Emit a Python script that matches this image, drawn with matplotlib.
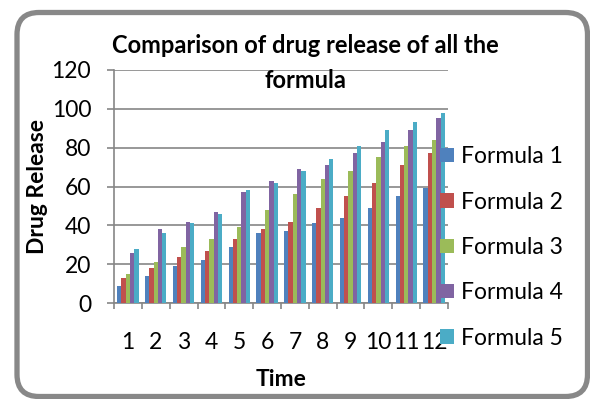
import matplotlib
matplotlib.use("Agg")
import matplotlib.pyplot as plt
import numpy as np
from matplotlib.patches import FancyBboxPatch

# Drug release (%) at each time point for the five formulas
time_points = [1, 2, 3, 4, 5, 6, 7, 8, 9, 10, 11, 12]
formula_1 = [9, 14, 19, 22, 29, 36, 37, 41, 44, 49, 55, 59]
formula_2 = [13, 18, 24, 27, 33, 38, 42, 49, 55, 62, 71, 77]
formula_3 = [15, 21, 29, 33, 39, 48, 56, 64, 68, 75, 81, 84]
formula_4 = [26, 38, 42, 47, 57, 63, 69, 71, 77, 83, 89, 95]
formula_5 = [28, 36, 41, 46, 58, 62, 68, 74, 81, 89, 93, 98]

series_names = ["Formula 1", "Formula 2", "Formula 3", "Formula 4", "Formula 5"]
series_colors = ["#4F81BD", "#C0504D", "#9BBB59", "#8064A2", "#4BACC6"]
y_ticks = [0, 20, 40, 60, 80, 100, 120]

FONT = "Lato"
GRID = "#868686"
W, H = 590, 399

plt.rcParams["font.family"] = [FONT, "DejaVu Sans"]

fig = plt.figure(figsize=(W / 100, H / 100), dpi=100)

# rounded chart-area frame, drawn in pixel units on a full-figure canvas
bg = fig.add_axes([0, 0, 1, 1], zorder=-10)
bg.set_xlim(0, W)
bg.set_ylim(H, 0)
bg.axis("off")
frame = FancyBboxPatch((17, 12.5), 570.5, 384, boxstyle="round,pad=0,rounding_size=22",
                       facecolor="white", edgecolor="#888888", linewidth=3.8)
bg.add_patch(frame)

# plot area in pixels
px_l, px_r, px_t, px_b = 114, 448, 69.7, 303.3
ax = fig.add_axes([px_l / W, 1 - px_b / H, (px_r - px_l) / W, (px_b - px_t) / H])
ax.set_facecolor("none")

series = [formula_1, formula_2, formula_3, formula_4, formula_5]
n = len(series)
bar_w = 1 / (n + 1.5)
x = np.arange(1, len(time_points) + 1)
for i, (vals, name, col) in enumerate(zip(series, series_names, series_colors)):
    ax.bar(x + (i - (n - 1) / 2) * bar_w, vals, width=bar_w, color=col,
           label=name, zorder=3, linewidth=0)

ax.set_xlim(0.5, len(time_points) + 0.5)
ax.set_ylim(0, 120)
ax.set_yticks(y_ticks)
ax.set_xticks(x)
ax.set_xticklabels([str(t) for t in time_points])
ax.set_xticks(np.arange(0.5, len(time_points) + 1), minor=True)

ax.grid(axis="y", color=GRID, linewidth=1.2, zorder=0)
for s in ["top", "right"]:
    ax.spines[s].set_visible(False)
for s in ["left", "bottom"]:
    ax.spines[s].set_color(GRID)
    ax.spines[s].set_linewidth(1.2)

ax.tick_params(axis="y", direction="out", length=5.4, width=1.2, color=GRID,
               labelsize=16.5, pad=11)
ax.tick_params(axis="x", which="major", length=0, labelsize=16.5, pad=21)
ax.tick_params(axis="x", which="minor", direction="out", length=4.5, width=1.2, color=GRID)

ax.set_ylabel("Drug Release", fontsize=16.5, fontweight="bold", va="center")
ax.yaxis.set_label_coords((37 - px_l) / (px_r - px_l), 0.5)
ax.set_xlabel("Time", fontsize=16.5, fontweight="bold", va="center")
ax.xaxis.set_label_coords(0.5, (px_b - 380) / (px_b - px_t))

fig.text(305 / W, 1 - 88 / H, "Comparison of drug release of all the\nformula",
         ha="center", va="baseline", fontsize=17, fontweight="bold",
         linespacing=1.62, multialignment="center")

leg = ax.legend(loc="center left", bbox_to_anchor=(440 / W, 1 - 247.5 / H),
                bbox_transform=fig.transFigure, frameon=False, fontsize=16.5,
                handlelength=0.6, handleheight=0.58, handletextpad=0.3,
                labelspacing=1.06, borderpad=0, borderaxespad=0)

fig.savefig("out.png", dpi=100, facecolor="white")
